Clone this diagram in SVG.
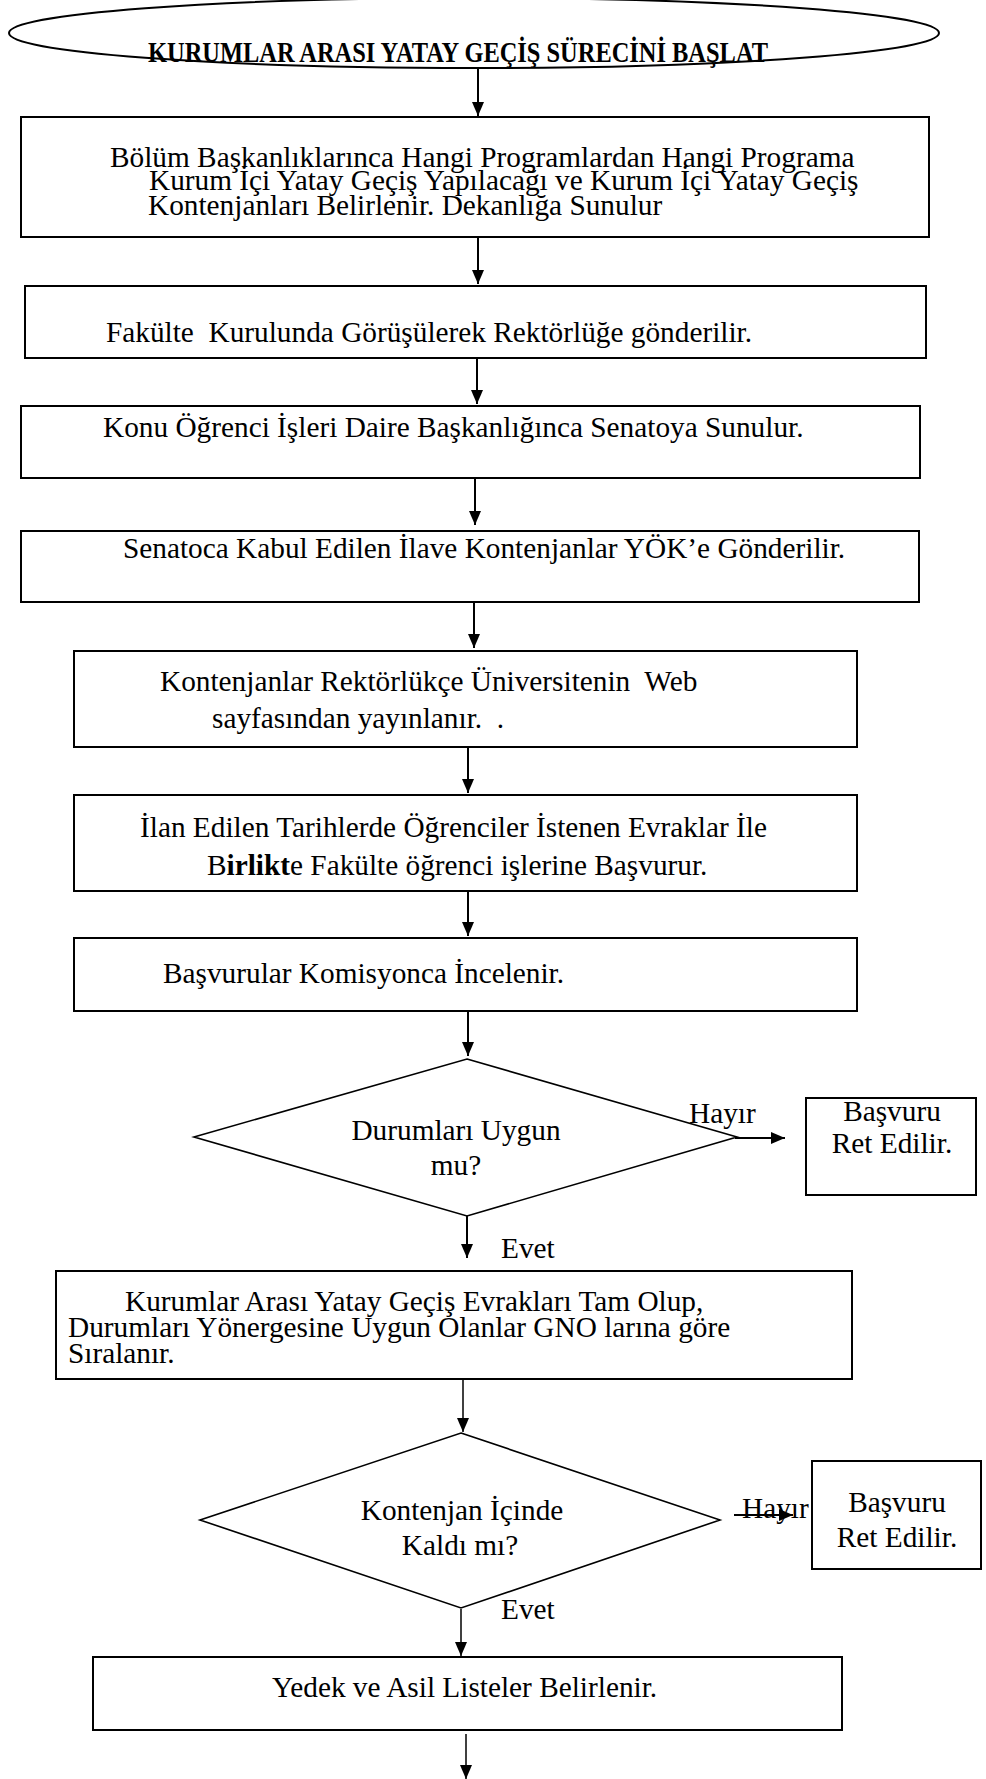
<svg xmlns="http://www.w3.org/2000/svg" width="986" height="1779" viewBox="0 0 986 1779">
<style>
.box{fill:#fff;stroke:#000;stroke-width:2}
.dia{fill:#fff;stroke:#000;stroke-width:1.6}
.t{font-family:"Liberation Serif","Times New Roman",serif;font-size:29.3px;fill:#000;white-space:pre}
.tb{font-weight:bold}
.m{text-anchor:middle}
.c{stroke:#000;stroke-width:2;fill:none}
.c1{stroke:#000;stroke-width:1.5;fill:none}
</style>
<defs>
<marker id="ah" viewBox="0 0 14 12" refX="14" refY="6" markerWidth="14" markerHeight="12" markerUnits="userSpaceOnUse" orient="auto">
<path d="M0,0 L14,6 L0,12 z" fill="#000"/>
</marker>
</defs>
<rect width="986" height="1779" fill="#fff"/>
<g id="start">
<ellipse class="box" cx="474" cy="33" rx="465" ry="35" stroke-width="1.5"/>
<text class="t tb" x="148" y="62" font-size="24" textLength="620" lengthAdjust="spacingAndGlyphs">KURUMLAR ARASI YATAY GEÇİŞ SÜRECİNİ BAŞLAT</text>
</g>
<g id="n1">
<rect class="box" x="21" y="117" width="908" height="120"/>
<text class="t" x="110" y="167">Bölüm Başkanlıklarınca Hangi Programlardan Hangi Programa</text>
<text class="t" x="149" y="190">Kurum İçi Yatay Geçiş Yapılacağı ve Kurum İçi Yatay Geçiş</text>
<text class="t" x="148" y="215">Kontenjanları Belirlenir. Dekanlığa Sunulur</text>
</g>
<g id="n2">
<rect class="box" x="25" y="286" width="901" height="72"/>
<text class="t" x="106" y="342">Fakülte  Kurulunda Görüşülerek Rektörlüğe gönderilir.</text>
</g>
<g id="n3">
<rect class="box" x="21" y="406" width="899" height="72"/>
<text class="t" x="103" y="437">Konu Öğrenci İşleri Daire Başkanlığınca Senatoya Sunulur.</text>
</g>
<g id="n4">
<rect class="box" x="21" y="531" width="898" height="71"/>
<text class="t" x="123" y="558">Senatoca Kabul Edilen İlave Kontenjanlar YÖK’e Gönderilir.</text>
</g>
<g id="n5">
<rect class="box" x="74" y="651" width="783" height="96"/>
<text class="t" x="160" y="691">Kontenjanlar Rektörlükçe Üniversitenin  Web</text>
<text class="t" x="212" y="728">sayfasından yayınlanır.  .</text>
</g>
<g id="n6">
<rect class="box" x="74" y="795" width="783" height="96"/>
<text class="t" x="140" y="837">İlan Edilen Tarihlerde Öğrenciler İstenen Evraklar İle</text>
<text class="t" x="207" y="875">B<tspan class="tb">irlikt</tspan>e Fakülte öğrenci işlerine Başvurur.</text>
</g>
<g id="n7">
<rect class="box" x="74" y="938" width="783" height="73"/>
<text class="t" x="163" y="983">Başvurular Komisyonca İncelenir.</text>
</g>
<g id="d1">
<polygon class="dia" points="467,1059 737,1137 467,1216 194,1137"/>
<text class="t m" x="456" y="1140">Durumları Uygun</text>
<text class="t m" x="456" y="1175">mu?</text>
</g>
<g id="r1">
<rect class="box" x="806" y="1098" width="170" height="97"/>
<text class="t m" x="892" y="1121">Başvuru</text>
<text class="t m" x="892" y="1153">Ret Edilir.</text>
</g>
<g id="n8">
<rect class="box" x="56" y="1271" width="796" height="108"/>
<text class="t" x="125" y="1311">Kurumlar Arası Yatay Geçiş Evrakları Tam Olup,</text>
<text class="t" x="68" y="1337">Durumları Yönergesine Uygun Olanlar GNO larına göre</text>
<text class="t" x="68" y="1363">Sıralanır.</text>
</g>
<g id="d2">
<polygon class="dia" points="461,1433 720,1520 461,1608 200,1520"/>
<text class="t m" x="462" y="1520">Kontenjan İçinde</text>
<text class="t m" x="460" y="1555">Kaldı mı?</text>
</g>
<g id="r2">
<rect class="box" x="812" y="1461" width="169" height="108"/>
<text class="t m" x="897" y="1512">Başvuru</text>
<text class="t m" x="897" y="1547">Ret Edilir.</text>
</g>
<g id="n9">
<rect class="box" x="93" y="1657" width="749" height="73"/>
<text class="t" x="272" y="1697">Yedek ve Asil Listeler Belirlenir.</text>
</g>
<g id="labels">
<text class="t" x="689" y="1123">Hayır</text>
<text class="t" x="501" y="1258">Evet</text>
<text class="t" x="742" y="1518">Hayır</text>
<text class="t" x="501" y="1619">Evet</text>
</g>
<g id="connectors">
<line class="c" x1="478" y1="68" x2="478" y2="116" marker-end="url(#ah)"/>
<line class="c" x1="478" y1="238" x2="478" y2="284" marker-end="url(#ah)"/>
<line class="c" x1="477" y1="358" x2="477" y2="404" marker-end="url(#ah)"/>
<line class="c" x1="475" y1="477" x2="475" y2="525" marker-end="url(#ah)"/>
<line class="c" x1="474" y1="603" x2="474" y2="648" marker-end="url(#ah)"/>
<line class="c" x1="468" y1="747" x2="468" y2="793" marker-end="url(#ah)"/>
<line class="c" x1="468" y1="891" x2="468" y2="936" marker-end="url(#ah)"/>
<line class="c" x1="468" y1="1011" x2="468" y2="1056" marker-end="url(#ah)"/>
<line class="c" x1="735" y1="1138" x2="785" y2="1138" stroke-width="2.5" marker-end="url(#ah)"/>
<line class="c" x1="467" y1="1216" x2="467" y2="1258" marker-end="url(#ah)"/>
<line class="c1" x1="463" y1="1379" x2="463" y2="1432" marker-end="url(#ah)"/>
<line class="c" x1="734" y1="1515" x2="793" y2="1515" stroke-width="2.5" marker-end="url(#ah)"/>
<line class="c1" x1="461" y1="1609" x2="461" y2="1656" marker-end="url(#ah)"/>
<line class="c1" x1="466" y1="1734" x2="466" y2="1779" marker-end="url(#ah)"/>
</g>
</svg>
